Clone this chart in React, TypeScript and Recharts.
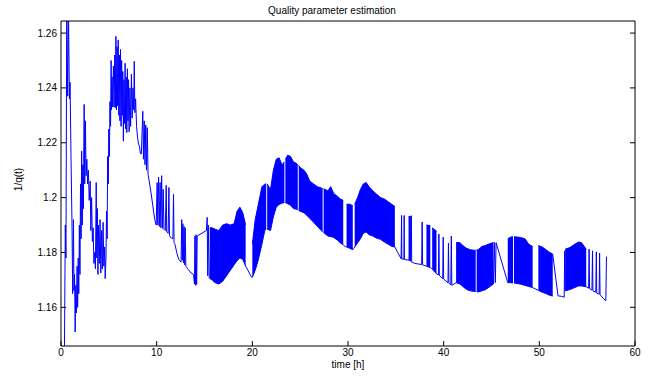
import React from 'react'
import { ComposedChart, Line, Area, XAxis, YAxis } from 'recharts'

// Quality parameter estimation — MATLAB-style trace of 1/q(t) over time [h].
// Dense oscillation stretches are drawn as a low/high band, the rest as a line.

const hourTicks = [0, 10, 20, 30, 40, 50, 60]
const qTicks = [1.16, 1.18, 1.2, 1.22, 1.24, 1.26]

// traced path (null = pen up)
const traceHours = [
  0.35, 0.45, 0.52, 0.6, 0.7, 0.78, 0.88, 0.95, 1.05, 1.15,
  1.22, 1.3, 1.36, 1.42, 1.48, 1.55, 1.62, 1.68, 1.74, 1.8,
  1.86, 1.92, 1.98, 2.04, 2.1, 2.16, 2.22, 2.28, 2.34, 2.42,
  2.48, 2.55, 2.62, 2.7, 2.78, 2.86, 2.95, 3.05, 3.12, 3.2,
  3.28, 3.36, 3.44, 3.52, 3.6, 3.68, 3.74, 3.8, 3.86, 3.92,
  4.0, 4.08, 4.16, 4.24, 4.32, 4.4, 4.48, 4.56, 4.62, 4.7,
  4.76, 4.82, 4.88, 4.94, 5.0, 5.06, 5.12, 5.18, 5.24, 5.28,
  5.34, 5.4, 5.48, 5.55, 5.62, 5.68, 5.74, 5.8, 5.86, 5.92,
  5.98, 6.04, 6.1, 6.16, 6.22, 6.28, 6.34, 6.4, 6.46, 6.52,
  6.58, 6.64, 6.7, 6.76, 6.82, 6.88, 6.94, 7.0, 7.06, 7.12,
  7.2, 7.28, 7.36, 7.44, 7.52, 7.6, 7.66, 7.72, 7.8, 7.9,
  8.0, 8.1, 8.2, 8.3, 8.4, 8.55, 8.62, 8.7, 8.78, 8.86,
  8.94, 9.02, 9.1, 9.2, 9.4, 9.6, 9.8, 9.95, 10.05, 10.12,
  10.2, 10.28, 10.36, 10.44, 10.52, 10.6, 10.68, 10.76, 10.9, 11.0,
  11.05, 11.2, 11.28, 11.34, 11.45, 11.7, 11.76, 11.82, 11.9, 12.1,
  12.3, 12.55, 12.62, 12.68, 12.74, 12.8, 12.86, 12.92, 12.98, 13.05,
  13.3, 13.6, 13.85, 13.95, 14.0, 14.06, 14.12, 14.18, 14.24, 15.2,
  15.28, 15.34, 15.4, 15.5, 15.52,
  19.3, 19.55, 19.75, 19.95, 19.98,
  29.5, 29.7, 29.85, 29.87,
  30.5, 30.6, 30.7, 30.72,
  34.9, 35.2, 35.55, 35.6, 35.63, 35.85, 35.87, 35.9, 36.38, 36.4,
  36.44, 36.5, 36.55, 36.62, 36.66, 37.0, 37.7, 37.75, 37.8, 38.2, 38.22,
  38.6, 38.7, 38.8, 38.82,
  39.25, 39.45, 39.5, 39.55, 39.9, 39.95, 40.0, 40.45, 40.5, 40.55,
  40.75, 40.8, 40.85, 41.3, 41.32,
  45.2, 45.3, 45.4, 45.48, 46.7, 46.72,
  49.3, 49.6, 49.9, 49.92,
  51.4, 51.95, 52.3, 52.6, 52.65, 52.7, 52.72,
  54.9, 55.15, 55.2, 55.25, 55.5, 55.56, 55.6, 55.9, 55.96, 56.0,
  56.25, 56.3, 56.35, 56.7, 56.95, 57.02,
]
const traceQ = [
  1.14, 1.19, 1.178, 1.27, 1.237, 1.27, 1.236, 1.242, 1.214, 1.19,
  1.165, 1.192, 1.166, 1.172, 1.151, 1.168, 1.158, 1.175, 1.16, 1.178,
  1.165, 1.19, 1.172, 1.205, 1.185, 1.217, 1.19, 1.212, 1.196, 1.234,
  1.205, 1.228, 1.208, 1.214, 1.205, 1.21, 1.199, 1.206, 1.188, 1.2,
  1.184, 1.189, 1.176, 1.18, 1.174, 1.2055, 1.178, 1.196, 1.172, 1.19,
  1.176, 1.192, 1.1725, 1.188, 1.174, 1.191, 1.175, 1.182, 1.1705, 1.178,
  1.195, 1.185, 1.215, 1.205, 1.225, 1.215, 1.235, 1.226, 1.25, 1.232,
  1.244, 1.233, 1.248, 1.233, 1.252, 1.2328, 1.2588, 1.232, 1.255, 1.2335,
  1.2575, 1.23, 1.252, 1.228, 1.254, 1.226, 1.25, 1.23, 1.246, 1.2206,
  1.243, 1.227, 1.249, 1.225, 1.244, 1.2237, 1.247, 1.228, 1.243, 1.224,
  1.24, 1.226, 1.245, 1.229, 1.24, 1.232, 1.2497, 1.231, 1.236, 1.226,
  1.222, 1.2195, 1.2188, 1.216, 1.216, 1.2315, 1.214, 1.228, 1.212, 1.2265,
  1.21, 1.2255, 1.2085, 1.2065, 1.202, 1.197, 1.192, 1.19, 1.2055, 1.19,
  1.2075, 1.1895, 1.2055, 1.189, 1.208, 1.1888, 1.203, 1.1885, 1.188, 1.2045,
  1.1875, 1.187, 1.2037, 1.1862, 1.1855, 1.185, 1.2012, 1.1835, 1.1832, 1.18,
  1.1775, 1.1765, 1.192, 1.1772, 1.1905, 1.1762, 1.1895, 1.1755, 1.189, 1.175,
  1.1738, 1.1725, 1.172, 1.1685, 1.186, 1.168, 1.1865, 1.1683, 1.186, 1.188,
  1.1928, 1.1715, 1.19, 1.1705, null,
  1.175, 1.1735, 1.172, 1.1709, null,
  1.1828, 1.1822, 1.182, null,
  1.181, 1.1815, 1.182, null,
  1.182, 1.18, 1.1777, 1.1935, 1.1776, 1.1776, 1.1935, 1.1774, 1.1772, 1.1933,
  1.177, 1.1932, 1.1768, 1.1934, 1.1765, 1.176, 1.1756, 1.1911, 1.1755, 1.175, null,
  1.1745, 1.1743, 1.174, null,
  1.1722, 1.1718, 1.1867, 1.1716, 1.1705, 1.1856, 1.1703, 1.169, 1.1834, 1.1688,
  1.1682, 1.186, 1.168, 1.169, null,
  1.1685, 1.1836, 1.169, 1.1836, 1.169, null,
  1.1672, 1.1667, 1.1662, null,
  1.1794, 1.1642, 1.164, 1.1637, 1.1806, 1.166, null,
  1.1675, 1.167, 1.1812, 1.1668, 1.1663, 1.1806, 1.166, 1.1655, 1.1802, 1.1652,
  1.1648, 1.1798, 1.1646, 1.1632, 1.1624, 1.1785,
]

// dense stretches: lower / upper envelope (null = gap between stretches)
const bandHours = [
  15.55, 15.8, 16.1, 16.5, 16.9, 17.3, 17.7, 18.1, 18.4, 18.7, 19.0, 19.3, 19.6,
  20.0, 20.3, 20.6, 21.0, 21.3, 21.45, 21.5,
  21.55, 21.9, 22.2, 22.5, 22.8, 23.1, 23.35, 23.4,
  23.45, 23.7, 24.0, 24.3, 24.6, 24.75, 24.8,
  24.85, 25.0, 25.4, 25.7, 26.0, 26.4, 26.8, 27.2, 27.35, 27.4,
  27.45, 27.6, 27.9, 28.2, 28.5, 28.9, 29.2, 29.5, 29.6,
  29.85, 30.2, 30.5, 30.6,
  30.7, 31.0, 31.3, 31.6, 31.9, 32.2, 32.6, 33.0, 33.4, 33.8, 34.2, 34.6, 34.9, 35.0,
  38.2, 38.6, 38.7,
  38.8, 39.25, 39.3,
  41.3, 41.7, 42.0, 42.4, 42.8, 43.2, 43.35, 43.4,
  43.45, 43.6, 44.0, 44.4, 44.8, 45.2, 45.3,
  46.7, 47.0, 47.25, 47.3,
  47.35, 47.5, 48.0, 48.5, 48.9, 49.3, 49.4,
  49.9, 50.3, 50.7, 51.0, 51.4, 51.5,
  52.7, 53.2, 53.7, 54.1, 54.4, 54.9,
]
const bandLow = [
  1.1705, 1.17, 1.169, 1.1685, 1.1695, 1.1715, 1.1735, 1.1755, 1.177, 1.178, 1.1775, 1.175, null,
  1.1709, 1.1735, 1.177, 1.183, 1.188, 1.1885, null,
  1.1885, 1.188, 1.193, 1.1965, 1.1975, 1.198, 1.1982, null,
  1.1982, 1.1978, 1.1972, 1.196, 1.1958, 1.1955, null,
  1.1953, 1.195, 1.1945, 1.1935, 1.1925, 1.191, 1.1895, 1.188, 1.1875, null,
  1.1873, 1.1868, 1.186, 1.1858, 1.1855, 1.1845, 1.1835, 1.1828, null,
  1.182, 1.1815, 1.181, null,
  1.182, 1.1835, 1.185, 1.187, 1.1875, 1.1865, 1.186, 1.1852, 1.1848, 1.1838, 1.183, 1.1822, 1.182, null,
  1.175, 1.1745, null,
  1.174, 1.1722, null,
  1.169, 1.1685, 1.1676, 1.1665, 1.166, 1.1658, 1.1657, null,
  1.1657, 1.1656, 1.166, 1.1665, 1.1675, 1.1685, null,
  1.169, 1.169, 1.1689, null,
  1.1689, 1.1688, 1.1685, 1.168, 1.1676, 1.1672, null,
  1.1662, 1.1655, 1.165, 1.1645, 1.1641, null,
  1.166, 1.1665, 1.1672, 1.1678, 1.1678, 1.1675,
]
const bandHigh = [
  1.189, 1.189, 1.1885, 1.188, 1.19, 1.1905, 1.19, 1.1905, 1.195, 1.1965, 1.1945, 1.19, null,
  1.183, 1.192, 1.197, 1.204, 1.2049, 1.205, null,
  1.205, 1.203, 1.21, 1.214, 1.2145, 1.212, 1.213, null,
  1.214, 1.2155, 1.215, 1.213, 1.2125, 1.212, null,
  1.2118, 1.211, 1.21, 1.2085, 1.206, 1.205, 1.204, 1.2035, 1.2033, null,
  1.2032, 1.203, 1.2025, 1.204, 1.2015, 1.2005, 1.1995, 1.199, null,
  1.1976, 1.1976, 1.197, null,
  1.1976, 1.2, 1.203, 1.205, 1.2055, 1.204, 1.2025, 1.2012, 1.2, 1.1995, 1.1985, 1.1975, 1.1968, null,
  1.19, 1.1898, null,
  1.189, 1.1878, null,
  1.1836, 1.1836, 1.1825, 1.1815, 1.181, 1.1808, 1.1808, null,
  1.1809, 1.181, 1.1822, 1.1826, 1.1832, 1.1836, null,
  1.185, 1.1856, 1.1857, null,
  1.1857, 1.1857, 1.1855, 1.185, 1.183, 1.1822, null,
  1.1825, 1.182, 1.181, 1.1802, 1.1794, null,
  1.1812, 1.1818, 1.183, 1.1838, 1.1836, 1.1812,
]

const BLUE = '#0000ff'
const FONT = '"Liberation Sans", Arial, Helvetica, sans-serif'

const trace = traceHours.map((t, i) => ({ t, q: traceQ[i] }))

const bands: { t: number; range: [number, number] }[][] = []
let current: { t: number; range: [number, number] }[] = []
bandHours.forEach((t, i) => {
  const lo = bandLow[i]
  const hi = bandHigh[i]
  if (lo == null || hi == null) {
    if (current.length) bands.push(current)
    current = []
  } else {
    current.push({ t, range: [lo, hi] })
  }
})
if (current.length) bands.push(current)

const tickStyle = { fill: '#000', fontSize: 10, fontFamily: FONT }
const blank = () => ''

export default function App() {
  return (
    <div style={{ position: 'relative', width: 656, height: 376, background: '#fff', fontFamily: FONT }}>
      <style>{'body{margin:0}'}</style>
      <ComposedChart width={656} height={376} margin={{ top: 20, right: 20, bottom: 0, left: 0 }}>
        <XAxis
          xAxisId={0}
          dataKey="t"
          type="number"
          domain={[0, 60]}
          ticks={hourTicks}
          allowDataOverflow
          stroke="#000"
          tickSize={-5}
          tickMargin={8}
          height={30}
          tick={tickStyle}
        />
        <XAxis
          xAxisId="top"
          orientation="top"
          type="number"
          domain={[0, 60]}
          ticks={hourTicks}
          allowDataOverflow
          stroke="#000"
          tickSize={-5}
          height={1}
          tickFormatter={blank}
        />
        <YAxis
          yAxisId={0}
          type="number"
          domain={[1.1459, 1.2644]}
          ticks={qTicks}
          allowDataOverflow
          stroke="#000"
          tickSize={-5}
          tickMargin={9}
          width={61}
          tick={tickStyle}
        />
        <YAxis
          yAxisId="right"
          orientation="right"
          type="number"
          domain={[1.1459, 1.2644]}
          ticks={qTicks}
          allowDataOverflow
          stroke="#000"
          tickSize={-5}
          width={1}
          tickFormatter={blank}
        />
        {bands.map((seg, i) => (
          <Area
            key={i}
            data={seg}
            dataKey="range"
            type="linear"
            stroke={BLUE}
            strokeWidth={1}
            fill={BLUE}
            fillOpacity={1}
            dot={false}
            activeDot={false}
            isAnimationActive={false}
          />
        ))}
        <Line
          data={trace}
          dataKey="q"
          type="linear"
          stroke={BLUE}
          strokeWidth={1}
          dot={false}
          activeDot={false}
          connectNulls={false}
          isAnimationActive={false}
        />
      </ComposedChart>
      <div style={{ position: 'absolute', left: 232, top: 5, width: 200, textAlign: 'center', fontSize: 10, color: '#000' }}>
        Quality parameter estimation
      </div>
      <div style={{ position: 'absolute', left: 298, top: 359, width: 100, textAlign: 'center', fontSize: 10, color: '#000' }}>
        time [h]
      </div>
      <div
        style={{
          position: 'absolute',
          left: -32,
          top: 174,
          width: 100,
          textAlign: 'center',
          fontSize: 10,
          color: '#000',
          transform: 'rotate(-90deg)',
        }}
      >
        1/q(t)
      </div>
    </div>
  )
}
